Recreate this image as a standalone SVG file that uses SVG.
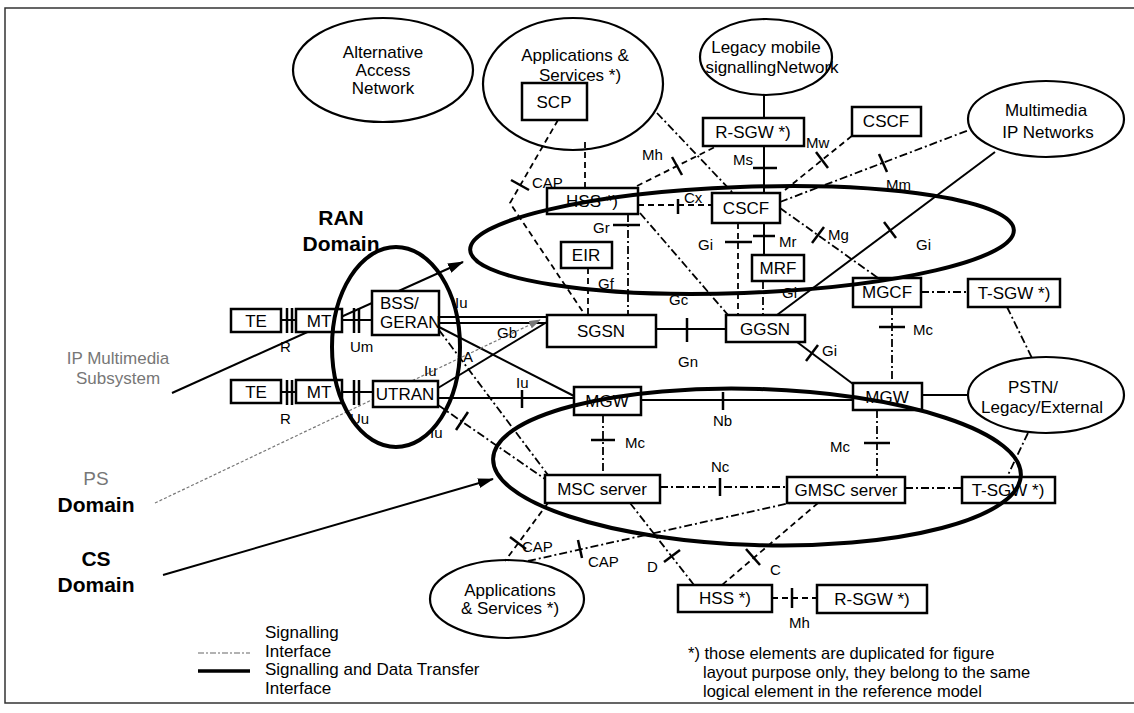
<svg xmlns="http://www.w3.org/2000/svg" width="1134" height="713" viewBox="0 0 1134 713">
<style>
text{font-family:"Liberation Sans",Arial,Helvetica,sans-serif;fill:#000}
.bx{fill:#fff;stroke:#000;stroke-width:2.5}
.el{fill:none;stroke:#000;stroke-width:2.2}
.dom{fill:none;stroke:#000;stroke-width:4}
.sol{fill:none;stroke:#000;stroke-width:2}
.sig{fill:none;stroke:#000;stroke-width:1.8;stroke-dasharray:8 3 2 3}
.dsh{fill:none;stroke:#000;stroke-width:1.8;stroke-dasharray:6 4}
.tk{stroke:#000;stroke-width:2.5}
.nl{font-size:17px}
.il{font-size:15px}
.dl{font-size:21px;font-weight:bold}
.gl{fill:#777}
</style>
<defs>
<marker id="ah" viewBox="0 0 16 10" refX="15" refY="5" markerWidth="16" markerHeight="10" markerUnits="userSpaceOnUse" orient="auto">
<path d="M0,0 L16,5 L0,10 Z" fill="#000"/>
</marker>
<marker id="ahg" viewBox="0 0 12 8" refX="11" refY="4" markerWidth="12" markerHeight="8" markerUnits="userSpaceOnUse" orient="auto">
<path d="M0,0 L12,4 L0,8 Z" fill="#777"/>
</marker>
</defs>
<rect width="1134" height="713" fill="#fff"/>
<path d="M1134,8 H5 V703 H1134" fill="none" stroke="#333" stroke-width="1.5"/>

<g id="connectors">
<path class="sol" d="M281,320 H296 M342,320 H372 M281,392 H296 M342,392 H373"/>
<path class="tk" d="M287,308 V333 M292,308 V333 M354,308 V333 M359,308 V333 M287,380 V405 M292,380 V405 M354,380 V405 M359,380 V405" stroke-width="2"/>
<path class="sol" d="M439,317 H547 M439,323 H547" stroke-width="2.5"/>
<path class="sol" d="M439,327 L574,396"/>
<path class="sol" d="M438,388 L547,322"/>
<path class="sol" d="M438,398 H574"/>
<path class="tk" d="M522,390 V408"/>
<path class="sol" d="M656,329 H726" stroke-width="3"/>
<path class="tk" d="M687,318 V342"/>
<path class="sol" d="M641,400 H853" stroke-width="2.5"/>
<path class="tk" d="M723,392 V410"/>
<path class="sol" d="M995,152 L777,315"/>
<path class="tk" d="M884,222 L896,238"/>
<path class="sol" d="M797,342 L853,384"/>
<path class="tk" d="M818,345 L806,361"/>
<path class="sol" d="M922,395 H968"/>
<path class="sol" d="M764,95 V118 M764,146 V193 M764,223 V255"/>
<path class="tk" d="M753,168 H777 M753,236 H775"/>
<path class="dsh" d="M585,142 V188"/>
<path class="dsh" d="M558,120 L510,203 L585,315"/>
<path class="tk" d="M511,180 L529,190"/>
<path class="dsh" d="M588,268 V315"/>
<path class="sig" d="M628,214 V315"/>
<path class="tk" d="M613,225 H640"/>
<path class="sig" d="M640,213 L728,315"/>
<path class="dsh" d="M638,205 H712"/>
<path class="tk" d="M678,199 V214"/>
<path class="dsh" d="M637,186 L717,146"/>
<path class="tk" d="M672,157 L682,175"/>
<path class="sig" d="M657,113 L733,193"/>
<path class="dsh" d="M738,223 V315"/>
<path class="tk" d="M725,242 H752"/>
<path class="sig" d="M763,281 V315"/>
<path class="dsh" d="M785,190 L853,135"/>
<path class="tk" d="M816,152 L828,168"/>
<path class="sig" d="M780,202 L969,130"/>
<path class="tk" d="M879,154 L887,172"/>
<path class="sig" d="M780,208 L878,278"/>
<path class="tk" d="M824,227 L812,243"/>
<path class="sig" d="M921,292 H968"/>
<path class="sig" d="M892,307 V383"/>
<path class="tk" d="M879,327 H905"/>
<path class="sig" d="M1007,307 L1032,358"/>
<path class="sig" d="M1028,433 L1007,477"/>
<path class="sig" d="M603,415 V475"/>
<path class="tk" d="M591,440 H615"/>
<path class="sig" d="M877,410 V477"/>
<path class="tk" d="M864,443 H890"/>
<path class="sig" d="M660,487 H787"/>
<path class="tk" d="M720,478 V496"/>
<path class="sig" d="M905,488 H962"/>
<path class="sig" d="M439,330 L548,475"/>
<path class="sig" d="M438,405 L545,479"/>
<path class="tk" d="M468,412 L456,430"/>
<path class="dsh" d="M548,503 L505,561"/>
<path class="tk" d="M510,537 L526,549"/>
<path class="sig" d="M528,561 L790,503"/>
<path class="tk" d="M578,540 L582,558"/>
<path class="sig" d="M630,503 L694,585"/>
<path class="tk" d="M680,550 L664,562"/>
<path class="dsh" d="M818,503 L722,585"/>
<path class="tk" d="M746,549 L760,565"/>
<path class="dsh" d="M772,598 H817"/>
<path class="tk" d="M792,588 V608"/>
<path d="M172,393 L463,262" stroke="#000" stroke-width="2" marker-end="url(#ah)"/>
<path d="M163,575 L493,479" stroke="#000" stroke-width="2" marker-end="url(#ah)"/>
<path d="M155,503 L540,320" stroke="#777" stroke-width="1.2" stroke-dasharray="3 2" marker-end="url(#ahg)"/>
<path d="M198,653 H250" stroke="#666" stroke-width="1.2" stroke-dasharray="6 2 2 2"/>
<path d="M198,671 H250" stroke="#000" stroke-width="3.5"/>
</g>

<g id="n-alt"><ellipse class="el" cx="383" cy="70" rx="90" ry="52"/>
<text class="nl" x="383" y="58" text-anchor="middle">Alternative</text>
<text class="nl" x="383" y="76" text-anchor="middle">Access</text>
<text class="nl" x="383" y="94" text-anchor="middle">Network</text></g>
<g id="n-apps1"><ellipse class="el" cx="573" cy="84" rx="90" ry="66"/>
<text class="nl" x="575" y="61" text-anchor="middle">Applications &amp;</text>
<text class="nl" x="580" y="81" text-anchor="middle">Services  *)</text></g>
<g id="n-legacy"><ellipse class="el" cx="766" cy="57" rx="66" ry="38"/>
<text class="nl" x="766" y="53" text-anchor="middle" font-size="16">Legacy mobile</text>
<text class="nl" x="772" y="73" text-anchor="middle" font-size="16">signallingNetwork</text></g>
<g id="n-mmip"><ellipse class="el" cx="1046" cy="119" rx="78" ry="38"/>
<text class="nl" x="1046" y="116" text-anchor="middle">Multimedia</text>
<text class="nl" x="1048" y="138" text-anchor="middle">IP Networks</text></g>
<g id="n-pstn"><ellipse class="el" cx="1046" cy="395" rx="78" ry="38"/>
<text class="nl" x="1033" y="393" text-anchor="middle">PSTN/</text>
<text class="nl" x="1042" y="413" text-anchor="middle">Legacy/External</text></g>
<g id="n-apps2"><ellipse class="el" cx="507" cy="599" rx="77" ry="39"/>
<text class="nl" x="510" y="596" text-anchor="middle">Applications</text>
<text class="nl" x="510" y="614" text-anchor="middle">&amp; Services *)</text></g>

<g id="n-te1"><rect class="bx" x="231" y="309" width="50" height="23"/><text class="nl" x="256" y="327" text-anchor="middle">TE</text></g>
<g id="n-mt1"><rect class="bx" x="296" y="309" width="46" height="23"/><text class="nl" x="319" y="327" text-anchor="middle">MT</text></g>
<g id="n-bss"><rect class="bx" x="372" y="291" width="67" height="44"/><text class="nl" x="380" y="309">BSS/</text><text class="nl" x="380" y="328">GERAN</text></g>
<g id="n-te2"><rect class="bx" x="231" y="380" width="50" height="23"/><text class="nl" x="256" y="398" text-anchor="middle">TE</text></g>
<g id="n-mt2"><rect class="bx" x="296" y="380" width="46" height="23"/><text class="nl" x="319" y="398" text-anchor="middle">MT</text></g>
<g id="n-utran"><rect class="bx" x="373" y="381" width="65" height="26"/><text class="nl" x="405" y="400" text-anchor="middle">UTRAN</text></g>
<g id="n-scp"><rect class="bx" x="522" y="83" width="65" height="37"/><text class="nl" x="554" y="108" text-anchor="middle">SCP</text></g>
<g id="n-hss1"><rect class="bx" x="547" y="188" width="91" height="26"/><text class="nl" x="592" y="207" text-anchor="middle">HSS *)</text></g>
<g id="n-rsgw1"><rect class="bx" x="703" y="118" width="101" height="28"/><text class="nl" x="753" y="138" text-anchor="middle">R-SGW *)</text></g>
<g id="n-cscf1"><rect class="bx" x="852" y="107" width="69" height="29"/><text class="nl" x="886" y="127" text-anchor="middle">CSCF</text></g>
<g id="n-cscf2"><rect class="bx" x="712" y="193" width="68" height="30"/><text class="nl" x="746" y="214" text-anchor="middle">CSCF</text></g>
<g id="n-eir"><rect class="bx" x="561" y="242" width="51" height="26"/><text class="nl" x="586" y="261" text-anchor="middle">EIR</text></g>
<g id="n-mrf"><rect class="bx" x="752" y="255" width="52" height="26"/><text class="nl" x="778" y="274" text-anchor="middle">MRF</text></g>
<g id="n-mgcf"><rect class="bx" x="853" y="278" width="68" height="29"/><text class="nl" x="887" y="298" text-anchor="middle">MGCF</text></g>
<g id="n-tsgw1"><rect class="bx" x="968" y="279" width="92" height="28"/><text class="nl" x="1014" y="299" text-anchor="middle">T-SGW *)</text></g>
<g id="n-sgsn"><rect class="bx" x="547" y="315" width="109" height="32"/><text class="nl" x="601" y="337" text-anchor="middle">SGSN</text></g>
<g id="n-ggsn"><rect class="bx" x="726" y="315" width="79" height="27"/><text class="nl" x="765" y="335" text-anchor="middle">GGSN</text></g>
<g id="n-mgw1"><rect class="bx" x="574" y="387" width="67" height="28"/><text class="nl" x="607" y="407" text-anchor="middle">MGW</text></g>
<g id="n-mgw2"><rect class="bx" x="853" y="383" width="69" height="27"/><text class="nl" x="887" y="403" text-anchor="middle">MGW</text></g>
<g id="n-msc"><rect class="bx" x="545" y="475" width="115" height="28"/><text class="nl" x="602" y="495" text-anchor="middle">MSC server</text></g>
<g id="n-gmsc"><rect class="bx" x="787" y="477" width="118" height="26"/><text class="nl" x="846" y="496" text-anchor="middle">GMSC server</text></g>
<g id="n-tsgw2"><rect class="bx" x="962" y="477" width="93" height="26"/><text class="nl" x="1008" y="496" text-anchor="middle">T-SGW *)</text></g>
<g id="n-hss2"><rect class="bx" x="678" y="585" width="94" height="27"/><text class="nl" x="725" y="604" text-anchor="middle">HSS *)</text></g>
<g id="n-rsgw2"><rect class="bx" x="817" y="585" width="110" height="28"/><text class="nl" x="872" y="605" text-anchor="middle">R-SGW *)</text></g>

<g id="d-ran"><ellipse class="dom" cx="396" cy="347" rx="64" ry="100"/></g>
<g id="d-ims"><ellipse class="dom" cx="742" cy="240" rx="272" ry="53" transform="rotate(-2.1 742 240)"/></g>
<g id="d-cs"><ellipse class="dom" cx="757" cy="467" rx="264" ry="78" transform="rotate(1.8 757 467)"/></g>

<g id="labels">
<text class="dl" x="341" y="225" text-anchor="middle">RAN</text>
<text class="dl" x="341" y="251" text-anchor="middle">Domain</text>
<text class="gl" x="118" y="364" text-anchor="middle" font-size="17">IP Multimedia</text>
<text class="gl" x="118" y="384" text-anchor="middle" font-size="17">Subsystem</text>
<text class="gl" x="96" y="485" text-anchor="middle" font-size="19">PS</text>
<text class="dl" x="96" y="512" text-anchor="middle">Domain</text>
<text class="dl" x="96" y="566" text-anchor="middle">CS</text>
<text class="dl" x="96" y="592" text-anchor="middle">Domain</text>
<g class="il">
<text x="280" y="352">R</text><text x="350" y="352">Um</text>
<text x="280" y="424">R</text><text x="350" y="424">Uu</text>
<text x="455" y="308">Iu</text><text x="497" y="338">Gb</text><text x="463" y="362">A</text>
<text x="424" y="376">Iu</text><text x="516" y="388">Iu</text><text x="430" y="438">Iu</text>
<text x="532" y="188">CAP</text><text x="642" y="160">Mh</text><text x="733" y="165">Ms</text>
<text x="684" y="203">Cx</text><text x="593" y="233">Gr</text><text x="698" y="250">Gi</text>
<text x="779" y="247">Mr</text><text x="806" y="148">Mw</text><text x="886" y="190">Mm</text>
<text x="828" y="240">Mg</text><text x="916" y="250">Gi</text><text x="598" y="289">Gf</text>
<text x="669" y="305">Gc</text><text x="782" y="298">Gi</text><text x="678" y="367">Gn</text>
<text x="822" y="356">Gi</text><text x="913" y="335">Mc</text><text x="713" y="426">Nb</text>
<text x="625" y="448">Mc</text><text x="830" y="452">Mc</text><text x="711" y="472">Nc</text>
<text x="522" y="552">CAP</text><text x="588" y="567">CAP</text><text x="647" y="572">D</text>
<text x="770" y="575">C</text><text x="789" y="628">Mh</text>
</g>
<text font-size="17" x="265" y="638">Signalling</text>
<text font-size="17" x="265" y="657">Interface</text>
<text font-size="17" x="265" y="675">Signalling and Data Transfer</text>
<text font-size="17" x="265" y="694">Interface</text>
<text font-size="16.5" x="688" y="659">*) those elements are duplicated for figure</text>
<text font-size="16.5" x="703" y="678">layout purpose only, they belong to the same</text>
<text font-size="16.5" x="703" y="697">logical element in the reference model</text>
</g>
</svg>
